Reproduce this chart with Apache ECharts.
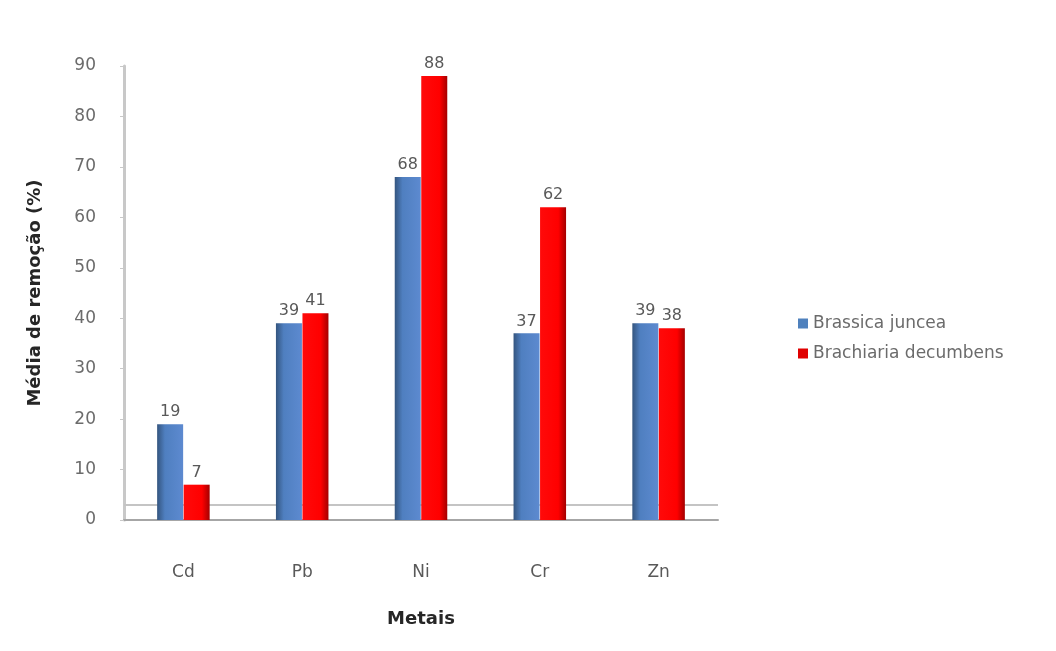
<!DOCTYPE html>
<html>
<head>
<meta charset="utf-8">
<script src="https://cdn.jsdelivr.net/npm/echarts@6/dist/echarts.min.js"></script>
<style>
  html, body { margin: 0; padding: 0; background: #fff; }
  #chart { width: 1056px; height: 651px; }
</style>
</head>
<body>
<div id="chart"></div>
<script>
// Metals on the category axis
const categories = ['Cd', 'Pb', 'Ni', 'Cr', 'Zn'];
// Mean removal (%) per plant species
const junceaValues = [19, 39, 68, 37, 39];
const decumbensValues = [7, 41, 88, 62, 38];
const seriesNames = ['Brassica juncea', 'Brachiaria decumbens'];
// Value axis range
const yMin = 0, yMax = 90, yStep = 10;

const chart = echarts.init(document.getElementById('chart'), null, { renderer: 'canvas' });

const font = '"DejaVu Sans", "Liberation Sans", sans-serif';

// Horizontal shading that gives the columns a rounded, lit look
function shade(dark, mid, light, darkOnLeft) {
  const stops = darkOnLeft
    ? [{ offset: 0, color: dark }, { offset: 0.3, color: mid }, { offset: 1, color: light }]
    : [{ offset: 0, color: mid }, { offset: 0.7, color: light }, { offset: 1, color: dark }];
  return new echarts.graphic.LinearGradient(0, 0, 1, 0, stops);
}

const labelStyle = {
  show: true,
  position: 'top',
  distance: 4,
  color: '#595959',
  fontSize: 16,
  fontFamily: font
};

chart.setOption({
  backgroundColor: '#ffffff',
  animation: false,
  textStyle: { fontFamily: font },
  grid: { left: 124, right: 338, top: 66, bottom: 131 },
  legend: {
    orient: 'vertical',
    left: 793,
    top: 310,
    itemWidth: 10,
    itemHeight: 10,
    itemGap: 13,
    icon: 'rect',
    textStyle: { fontSize: 17, color: '#6b6b6b', fontFamily: font },
    data: [
      { name: seriesNames[0], itemStyle: { color: '#4f81bd' } },
      { name: seriesNames[1], itemStyle: { color: '#e00000' } }
    ]
  },
  xAxis: {
    type: 'category',
    data: categories,
    name: 'Metais',
    nameLocation: 'middle',
    nameGap: 90,
    nameTextStyle: { fontSize: 18, fontWeight: 'bold', color: '#262626', fontFamily: font },
    axisLine: { show: true, lineStyle: { color: '#a6a6a6', width: 2 } },
    axisTick: { show: false },
    axisLabel: { margin: 44, fontSize: 17, color: '#595959', fontFamily: font }
  },
  yAxis: {
    type: 'value',
    min: yMin,
    max: yMax,
    interval: yStep,
    name: 'Média de remoção (%)',
    nameLocation: 'middle',
    nameGap: 80,
    nameRotate: 90,
    nameTextStyle: { fontSize: 18, fontWeight: 'bold', color: '#262626', fontFamily: font },
    axisLine: { show: true, lineStyle: { color: '#c8c8c8', width: 3 } },
    axisTick: { show: true, length: 4, lineStyle: { color: '#c8c8c8' } },
    axisLabel: { margin: 28, fontSize: 17, color: '#6b6b6b', fontFamily: font },
    splitLine: { show: false }
  },
  series: [
    {
      name: seriesNames[0],
      type: 'bar',
      data: junceaValues,
      barWidth: 26,
      barGap: '2%',
      z: 3,
      itemStyle: { color: shade('#34557f', '#4f7fc0', '#5d8ad0', true) },
      label: labelStyle,
      markLine: {
        silent: true,
        symbol: 'none',
        z: 1,
        label: { show: false },
        lineStyle: { color: '#c4c4c4', width: 2, type: 'solid' },
        data: [{ yAxis: 3 }]
      }
    },
    {
      name: seriesNames[1],
      type: 'bar',
      data: decumbensValues,
      barWidth: 26,
      z: 3,
      itemStyle: { color: shade('#a40000', '#ff0a0a', '#ff0000', false) },
      label: labelStyle
    }
  ]
});
</script>
</body>
</html>
